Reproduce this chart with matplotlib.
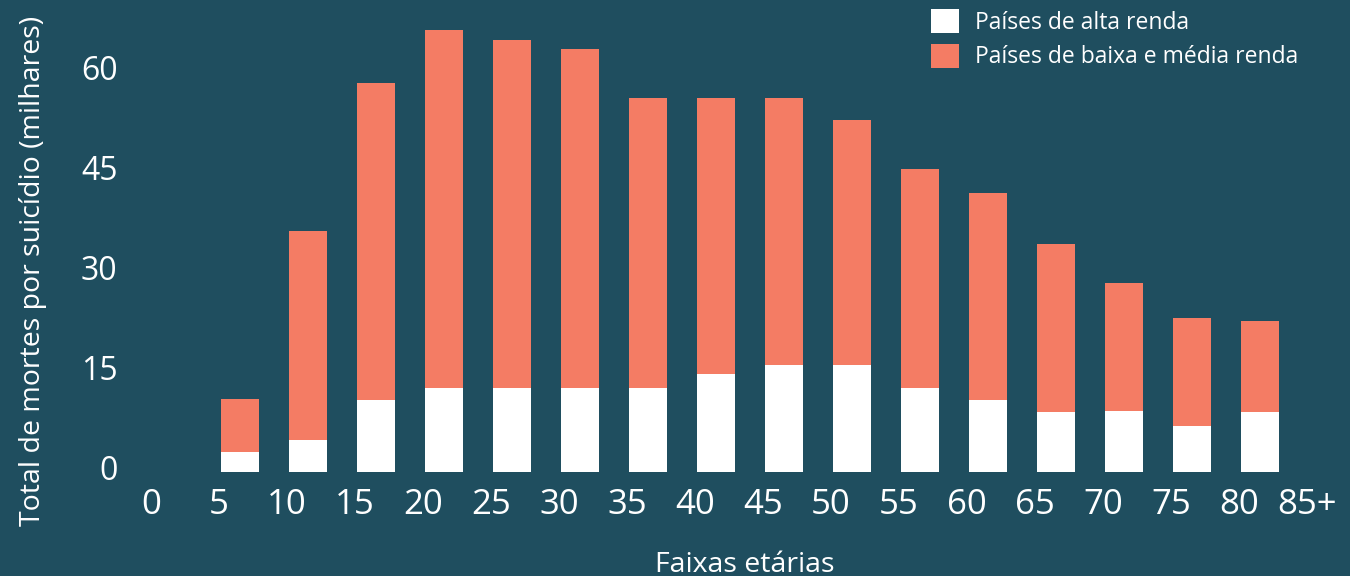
import matplotlib
matplotlib.use('Agg')
import matplotlib.pyplot as plt
from matplotlib.patches import Patch
from matplotlib.transforms import ScaledTranslation
import numpy as np

# idade inicial de cada faixa etária
ages = np.array([5, 10, 15, 20, 25, 30, 35, 40, 45, 50, 55, 60, 65, 70, 75, 80])
# total de mortes (milhares)
total = np.array([11.0, 36.2, 58.5, 66.5, 65.0, 63.6, 56.2, 56.2, 56.2,
                  52.9, 45.6, 42.0, 34.3, 28.4, 23.2, 22.7])
# países de alta renda (milhares)
alta = np.array([3.0, 4.8, 10.8, 12.6, 12.6, 12.6, 12.6, 14.7, 16.1,
                 16.1, 12.6, 10.8, 9.0, 9.2, 6.9, 9.0])
baixa_media = total - alta

xticks = list(range(0, 90, 5))
xticklabels = [str(t) for t in xticks[:-1]] + ['85+']
yticks = [0, 15, 30, 45, 60]

bg = '#1f4e5f'
salmon = '#f47c64'
plt.rcParams['font.family'] = ['Open Sans', 'DejaVu Sans']

fig = plt.figure(figsize=(13.5, 5.76), dpi=100, facecolor=bg)
ax = fig.add_axes([130/1350, 96/576, 1215/1350, 465/576], facecolor=bg)

ax.bar(ages + 0.15, alta, width=2.8, align='edge', color='white', linewidth=0)
ax.bar(ages + 0.15, baixa_media, bottom=alta, width=2.8, align='edge',
       color=salmon, linewidth=0)

ax.set_xlim(-1.54, 87.8)
ax.set_ylim(-1.2, 68.7)
ax.set_xticks(xticks)
ax.set_xticklabels(xticklabels)
ax.set_yticks(yticks)
for s in ax.spines.values():
    s.set_visible(False)
ax.tick_params(axis='x', length=0, pad=6, labelsize=25, labelcolor='white')
ax.tick_params(axis='y', length=0, pad=9, labelsize=23, labelcolor='white')
# rótulos do eixo y ficam um pouco acima da linha
shift = ScaledTranslation(0, 5/100, fig.dpi_scale_trans)
for lab in ax.get_yticklabels():
    lab.set_transform(lab.get_transform() + shift)

fig.text(33/1350, 1 - 271/576, 'Total de mortes por suicídio (milhares)',
         rotation=90, ha='center', va='center', color='white', fontsize=20.5)
fig.text(745/1350, 1 - 565/576, 'Faixas etárias', ha='center', va='center',
         color='white', fontsize=20.5)

handles = [Patch(facecolor='white', edgecolor='none'),
           Patch(facecolor=salmon, edgecolor='none')]
fig.legend(handles, ['Países de alta renda', 'Países de baixa e média renda'],
           loc='upper left', bbox_to_anchor=(931/1350, 1 - 9/576),
           frameon=False, fontsize=16.5, labelcolor='white',
           handlelength=1.22, handleheight=1.22, handletextpad=0.7,
           labelspacing=0.4, borderpad=0, borderaxespad=0)

fig.savefig('out.png', dpi=100, facecolor=bg)
